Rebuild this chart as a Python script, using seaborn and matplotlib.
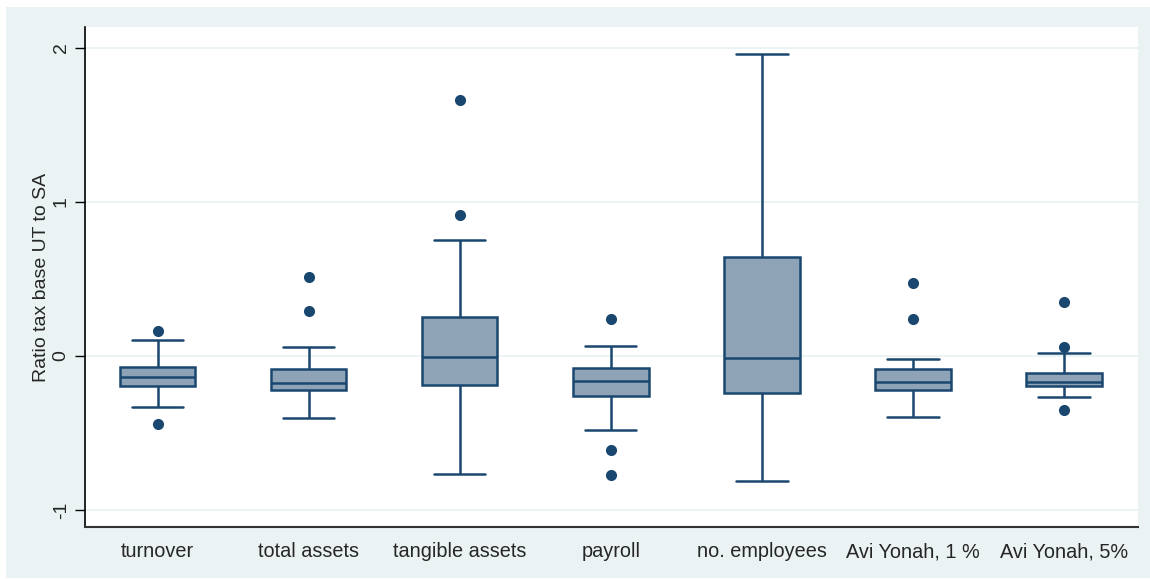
import matplotlib
matplotlib.use("Agg")
import matplotlib.pyplot as plt
import seaborn as sns
import pandas as pd
import numpy as np
from matplotlib.patches import Rectangle

categories = ["turnover", "total assets", "tangible assets", "payroll",
              "no. employees", "Avi Yonah, 1 %", "Avi Yonah, 5%"]
whisk_lo = [-0.329, -0.403, -0.763, -0.481, -0.811, -0.393, -0.264]
q1 =       [-0.195, -0.223, -0.187, -0.261, -0.242, -0.218, -0.197]
median =   [-0.138, -0.177, -0.007, -0.160, -0.014, -0.168, -0.171]
q3 =       [-0.071, -0.087,  0.251, -0.077,  0.646, -0.082, -0.108]
whisk_hi = [ 0.104,  0.056,  0.754,  0.062,  1.959, -0.019,  0.017]
outliers = {
    "turnover": [0.164, -0.442],
    "total assets": [0.513, 0.294],
    "tangible assets": [1.660, 0.916],
    "payroll": [0.242, -0.612, -0.770],
    "no. employees": [],
    "Avi Yonah, 1 %": [0.471, 0.242],
    "Avi Yonah, 5%": [0.350, 0.058, -0.350],
}
y_ticks = [-1, 0, 1, 2]
y_label = "Ratio tax base UT to SA"

rows = []
for i, c in enumerate(categories):
    for v in (whisk_lo[i], q1[i], median[i], q3[i], whisk_hi[i]):
        rows.append({"cat": c, "val": v})
box_df = pd.DataFrame(rows)
out_df = pd.DataFrame([{"cat": c, "val": v} for c in categories for v in outliers[c]])

sns.set_theme(style="white")
plt.rcParams["font.family"] = ["Liberation Sans", "DejaVu Sans"]

navy = "#1a476f"
fill = "#8ea4b6"
bg = "#eaf2f3"

fig = plt.figure(figsize=(11.5, 5.79), dpi=100)
fig.patch.set_facecolor("white")
fig.add_artist(Rectangle((6 / 1150, 1 / 579), 1144 / 1150, 571 / 579,
                         transform=fig.transFigure, facecolor=bg,
                         edgecolor="none", zorder=-10))
ax = fig.add_axes([85 / 1150, 1 - 527 / 579, 1053 / 1150, 500 / 579])
ax.set_facecolor("white")

for t in y_ticks:
    ax.axhline(t, color=bg, lw=1.3, zorder=0)

sns.boxplot(data=box_df, x="cat", y="val", order=categories, whis=(0, 100),
            width=0.5, color=fill, saturation=1, showfliers=False,
            linewidth=1.8, linecolor=navy,
            boxprops=dict(facecolor=fill, edgecolor=navy),
            whiskerprops=dict(color=navy), capprops=dict(color=navy),
            medianprops=dict(color=navy), ax=ax)

# widen whisker caps (Stata style)
for ln in ax.lines:
    xd = np.asarray(ln.get_xdata(), dtype=float)
    yd = np.asarray(ln.get_ydata(), dtype=float)
    if len(xd) == 2 and yd[0] == yd[1]:
        span = abs(xd[1] - xd[0])
        if 0 < span < 0.45:
            c = xd.mean()
            ln.set_xdata([c - 0.17, c + 0.17])

sns.stripplot(data=out_df, x="cat", y="val", order=categories, jitter=False,
              color=navy, size=8, linewidth=0, ax=ax, zorder=5)

ax.set_xlim(-0.48, 6.49)
ax.set_ylim(-1.11, 2.136)
ax.set_yticks(y_ticks)
ax.set_yticklabels([str(t) for t in y_ticks], rotation=90, va="center", fontsize=14)
ax.tick_params(axis="y", length=7, width=1, color="black", pad=4, left=True)
ax.tick_params(axis="x", length=0, labelsize=14.3, pad=11)
ax.set_xlabel("")
ax.set_ylabel(y_label, fontsize=14, labelpad=2)
for s in ["top", "right"]:
    ax.spines[s].set_visible(False)
ax.spines["left"].set_color("black")
ax.spines["left"].set_linewidth(1.2)
ax.spines["bottom"].set_color("#333333")
ax.spines["bottom"].set_linewidth(1.5)

fig.savefig("out.png", dpi=100, facecolor=fig.get_facecolor())
